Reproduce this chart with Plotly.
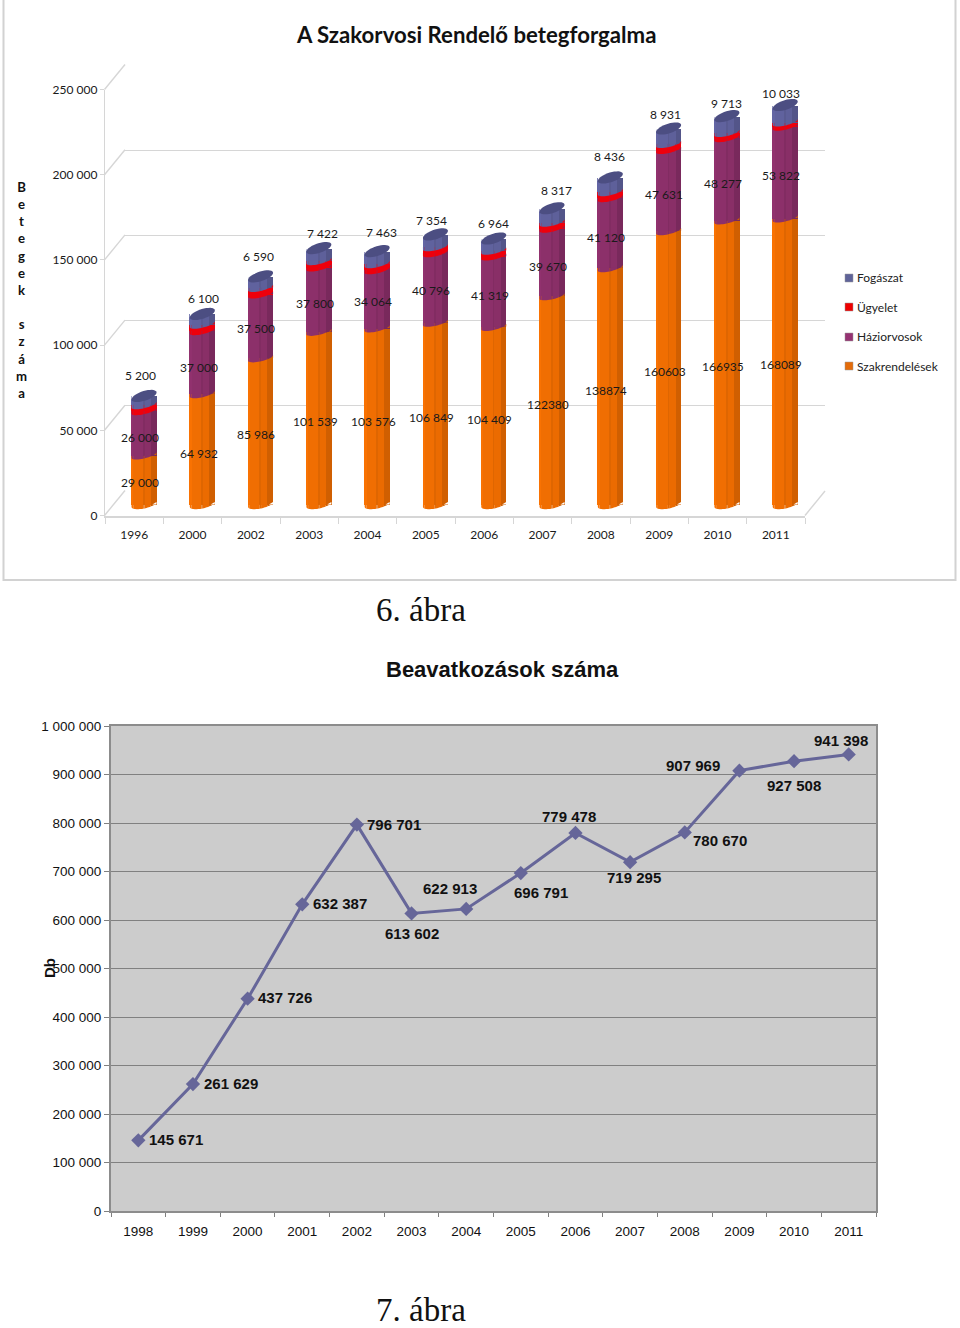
import numpy as np
import plotly.graph_objects as go

W, H = 960, 1328

# ---------- data: upper chart ----------
years_top = ["1996", "2000", "2002", "2003", "2004", "2005", "2006", "2007", "2008", "2009", "2010", "2011"]
szakrendelesek = [29000, 64932, 85986, 101539, 103576, 106849, 104409, 122380, 138874, 160603, 166935, 168089]
haziorvosok = [26000, 37000, 37500, 37800, 34064, 40796, 41319, 39670, 41120, 47631, 48277, 53822]
ugyelet = [3500, 3800, 3800, 3700, 3600, 3500, 3400, 3500, 3500, 3500, 3000, 2500]
fogaszat = [5200, 6100, 6590, 7422, 7463, 7354, 6964, 8317, 8436, 8931, 9713, 10033]
szak_labels = ["29 000", "64 932", "85 986", "101 539", "103 576", "106 849", "104 409", "122380", "138874", "160603", "166935", "168089"]
hazi_labels = ["26 000", "37 000", "37 500", "37 800", "34 064", "40 796", "41 319", "39 670", "41 120", "47 631", "48 277", "53 822"]
fog_labels = ["5 200", "6 100", "6 590", "7 422", "7 463", "7 354", "6 964", "8 317", "8 436", "8 931", "9 713", "10 033"]
ticks_top = [0, 50000, 100000, 150000, 200000, 250000]
ticktext_top = ["0", "50 000", "100 000", "150 000", "200 000", "250 000"]
legend_names = ["Fogászat", "Ügyelet", "Háziorvosok", "Szakrendelések"]

# ---------- data: lower chart ----------
years_low = ["1998", "1999", "2000", "2001", "2002", "2003", "2004", "2005", "2006", "2007", "2008", "2009", "2010", "2011"]
beavatkozas = [145671, 261629, 437726, 632387, 796701, 613602, 622913, 696791, 779478, 719295, 780670, 907969, 927508, 941398]
ticks_low = [0, 100000, 200000, 300000, 400000, 500000, 600000, 700000, 800000, 900000, 1000000]
ticktext_low = ["0", "100 000", "200 000", "300 000", "400 000", "500 000", "600 000", "700 000", "800 000", "900 000", "1 000 000"]

# ---------- placement of the free-floating labels (pixels) ----------
fog_pos = [(140, 376), (203, 298), (258, 257), (322, 234), (381, 233), (431, 221), (493, 224), (556, 190), (609, 156), (665, 115), (726, 104), (781, 94)]
hazi_pos = [(140, 437), (199, 367), (256, 329), (315, 303), (373, 302), (431, 291), (490, 295), (548, 266), (606, 237), (664, 194), (723, 183), (781, 176)]
szak_pos = [(140, 483), (199, 453), (256, 435), (315, 422), (373, 421), (431, 417), (490, 420), (548, 404), (606, 390), (665, 372), (723, 366), (781, 365)]
low_offsets = [(38, -1), (38, -1), (37, -1), (38, -1), (37, 0), (0, 20), (-16, -20), (20, 19), (-6, -16), (4, 15), (35, 8), (-46, -5), (0, 24), (-8, -14)]

GRID3D = "#D6D6D6"
FONT_TOP = "Lato"
FONT_LOW = "Liberation Sans"
TXT = "#1a1a1a"


def fx(px):
    return px / W


def fy(px):
    return 1 - px / H


def shade(rgb, f):
    return "rgb(%d,%d,%d)" % tuple(min(255, int(c * f)) for c in rgb)


ORANGE = (240, 110, 2)
PURPLE = (140, 48, 106)
RED = (238, 0, 12)
BLUE = (96, 98, 158)
BANDS = [(0.00, 0.07, 1.04), (0.07, 0.40, 1.00), (0.47, 0.05, 0.93), (0.52, 0.25, 0.98), (0.77, 0.23, 0.87)]
BAR_W = 0.4286
HALF_PX = 12.5

s1 = np.array(szakrendelesek, float)
s2 = np.array(haziorvosok, float)
s3 = np.array(ugyelet, float)
s4 = np.array(fogaszat, float)
idx = list(range(len(years_top)))

fig = go.Figure()

# back wall (grid only) -> first subplot so it lies beneath everything
fig.add_trace(go.Scatter(x=[0], y=[None], xaxis="x", yaxis="y", showlegend=False, hoverinfo="skip"))

series = [
    ("Szakrendelések", s1, np.zeros(12), ORANGE),
    ("Háziorvosok", s2, s1, PURPLE),
    ("Ügyelet", s3, s1 + s2, RED),
    ("Fogászat", s4, s1 + s2 + s3, BLUE),
]
for name, vals, base, rgb in series:
    for start, frac, f in BANDS:
        fig.add_trace(go.Bar(
            x=idx, y=vals, base=base, name=name, xaxis="x2", yaxis="y2",
            width=BAR_W * frac, offset=-BAR_W / 2 + BAR_W * start,
            marker=dict(color=shade(rgb, f if rgb != RED else 1), line=dict(width=0)),
            showlegend=False, hoverinfo="skip",
        ))

# front axes (labels, ticks)
fig.add_trace(go.Scatter(x=years_top, y=[None] * 12, xaxis="x3", yaxis="y3", showlegend=False, hoverinfo="skip"))

# lower line chart
fig.add_trace(go.Scatter(
    x=years_low, y=beavatkozas, xaxis="x4", yaxis="y4", mode="lines+markers",
    line=dict(color="#666699", width=3), marker=dict(symbol="diamond", size=11, color="#666699"),
    showlegend=False, hoverinfo="skip",
))

shapes = []


def curve_poly(x0, x1, fn, base=0.0):
    """Polygon between a curve and a flat line, both relative to the anchor (pixels)."""
    xs = np.linspace(x0, x1, 7)
    ys = fn(xs)
    pts = ["%.2f,%.2f" % (x, y) for x, y in zip(xs, ys)]
    return "M%.2f,%.2f L" % (x0, base) + " L".join(pts) + " L%.2f,%.2f Z" % (x1, base)


def cyl_shape(path, i, anchor, color):
    shapes.append(dict(type="path", path=path, xref="x2", yref="y2", xsizemode="pixel", ysizemode="pixel",
                       xanchor=i, yanchor=float(anchor), fillcolor=color, line=dict(width=0), layer="above"))


TILT = 2.8
B = 3.4


def lower(x, tilt=TILT, b=B):
    c = np.clip(x / HALF_PX, -1, 1)
    return tilt * c - b * np.sqrt(1 - c * c)


def upper(x, tilt=TILT, b=B):
    c = np.clip(x / HALF_PX, -1, 1)
    return tilt * c + b * np.sqrt(1 - c * c)


for i in idx:
    bounds = [
        (s1[i], ORANGE, PURPLE),
        (s1[i] + s2[i], PURPLE, RED),
        (s1[i] + s2[i] + s3[i], RED, BLUE),
    ]
    for anchor, low_rgb, up_rgb in bounds:
        for start, frac, f in BANDS:
            a = -HALF_PX + 2 * HALF_PX * start
            e = a + 2 * HALF_PX * frac
            fl = 1 if low_rgb == RED else f
            fu = 1 if up_rgb == RED else f
            cyl_shape(curve_poly(a, e, lambda x: np.maximum(lower(x), 0)), i, anchor, shade(low_rgb, fl))
            cyl_shape(curve_poly(a, e, lambda x: np.minimum(lower(x), 0)), i, anchor, shade(up_rgb, fu))
    # bottom of the cylinder
    for start, frac, f in BANDS:
        a = -HALF_PX + 2 * HALF_PX * start
        e = a + 2 * HALF_PX * frac
        cyl_shape(curve_poly(a, e, lambda x: np.minimum(lower(x, 2.5, 4.0), 0)), i, 0, shade(ORANGE, f))
    cyl_shape(curve_poly(-HALF_PX, HALF_PX, lambda x: np.maximum(lower(x, 2.5, 4.0), 0)), i, 0, "white")
    # top of the cylinder
    top = s1[i] + s2[i] + s3[i] + s4[i]
    cyl_shape(curve_poly(-HALF_PX, HALF_PX, lambda x: np.minimum(upper(x, 3.5, 5), 0)), i, top, "white")
    t = np.linspace(0, 2 * np.pi, 36)
    ex = HALF_PX * np.cos(t)
    ey = 3.5 * np.cos(t) + 5 * np.sin(t)
    cyl_shape("M" + " L".join("%.2f,%.2f" % p for p in zip(ex, ey)) + " Z", i, top, "rgb(76,78,130)")

# outer frame of the upper chart
shapes.append(dict(type="rect", xref="paper", yref="paper", x0=fx(3.5), x1=fx(955.5), y0=fy(580), y1=fy(-2),
                   line=dict(color="#D2D2D2", width=2), layer="below"))

# floor and side of the 3-D box
for t in ticks_top:
    yy = 515.5 - 426 * t / 250000
    shapes.append(dict(type="line", xref="paper", yref="paper", x0=fx(104.5), x1=fx(125), y0=fy(yy), y1=fy(yy - 25),
                       line=dict(color=GRID3D, width=1.4), layer="below"))
shapes.append(dict(type="line", xref="paper", yref="paper", x0=fx(805), x1=fx(825), y0=fy(515.5), y1=fy(491),
                   line=dict(color=GRID3D, width=1.4), layer="below"))

# hand-placed legend (tight marker/text spacing)
leg_y = [278, 307, 337, 366]
leg_col = ["#5F6399", "#EE0000", "#953272", "#E46C0A"]
annotations = []
for name, yy, col in zip(legend_names, leg_y, leg_col):
    shapes.append(dict(type="rect", xref="paper", yref="paper", x0=fx(845), x1=fx(853), y0=fy(yy + 4), y1=fy(yy - 4),
                       fillcolor=col, line=dict(color="#9a9a9a", width=0.5)))
    annotations.append(dict(text=name, xref="paper", yref="paper", x=fx(854.5), y=fy(yy), xanchor="left", yanchor="middle",
                            showarrow=False, font=dict(family=FONT_TOP, size=12, color="#222222")))


def top_label(txt, pos):
    annotations.append(dict(text=txt, xref="paper", yref="paper", x=fx(pos[0]), y=fy(pos[1]), xanchor="center",
                            yanchor="middle", showarrow=False, font=dict(family=FONT_TOP, size=12, color=TXT)))


for labels, positions in [(fog_labels, fog_pos), (hazi_labels, hazi_pos), (szak_labels, szak_pos)]:
    for txt, pos in zip(labels, positions):
        top_label(txt, pos)

for k, (v, (dx, dy)) in enumerate(zip(beavatkozas, low_offsets)):
    annotations.append(dict(text=f"{v:,}".replace(",", " "), xref="x4", yref="y4", x=k, y=v, xshift=dx, yshift=-dy,
                            xanchor="center", yanchor="middle", showarrow=False,
                            font=dict(family=FONT_LOW, size=15, color="#111111", weight="bold")))

# titles
annotations += [
    dict(text="<b>A Szakorvosi Rendelő betegforgalma</b>", xref="paper", yref="paper", x=fx(476), y=fy(35), xanchor="center",
         yanchor="middle", showarrow=False, font=dict(family=FONT_TOP, size=22.2, color="#111111")),
    dict(text="<b>" + "<br>".join("Betegek száma") + "</b>", xref="paper", yref="paper", x=fx(21), y=fy(290),
         xanchor="center", yanchor="middle", showarrow=False, font=dict(family=FONT_TOP, size=13.2, color="#111111")),
    dict(text="6. ábra", xref="paper", yref="paper", x=fx(421), y=fy(610), xanchor="center", yanchor="middle",
         showarrow=False, font=dict(family="Liberation Serif", size=33, color="#111111")),
    dict(text="<b>Beavatkozások száma</b>", xref="paper", yref="paper", x=fx(502), y=fy(669), xanchor="center",
         yanchor="middle", showarrow=False, font=dict(family=FONT_LOW, size=22, color="#111111")),
    dict(text="<b>Db</b>", xref="paper", yref="paper", x=fx(49), y=fy(968), xanchor="center", yanchor="middle",
         textangle=-90, showarrow=False, font=dict(family=FONT_LOW, size=15, color="#111111")),
    dict(text="7. ábra", xref="paper", yref="paper", x=fx(421), y=fy(1309.5), xanchor="center", yanchor="middle",
         showarrow=False, font=dict(family="Liberation Serif", size=33, color="#111111")),
]

hidden = dict(visible=False, fixedrange=True)
BAR_FLOOR = 12  # pixels of head-room beneath zero for the rounded cylinder bottoms
fig.update_layout(
    width=W, height=H, margin=dict(l=0, r=0, t=0, b=0, pad=0, autoexpand=False), autosize=False,
    paper_bgcolor="white", plot_bgcolor="rgba(0,0,0,0)", showlegend=False, barmode="overlay", bargap=0,
    shapes=shapes, annotations=annotations,
    # back wall
    xaxis=dict(domain=[fx(125), fx(825)], range=[0, 1], anchor="y", **hidden),
    yaxis=dict(domain=[fy(491), fy(65)], range=[0, 250000], anchor="x", tickmode="array", tickvals=ticks_top, showgrid=True,
               gridcolor=GRID3D, gridwidth=1.4, showticklabels=False, zeroline=False, showline=False, ticks="", fixedrange=True),
    # bars
    xaxis2=dict(domain=[fx(144 - 29.15), fx(144 - 29.15 + 699.5)], range=[-0.5, 11.5], anchor="y2", **hidden),
    yaxis2=dict(domain=[fy(504.5 + BAR_FLOOR), fy(78.5)], range=[-250000 * BAR_FLOOR / 426, 250000], anchor="x2", **hidden),
    # front axes
    xaxis3=dict(domain=[fx(105), fx(805)], type="category", categoryorder="array", categoryarray=years_top, anchor="y3",
                range=[-0.5, 11.5], autorange=False, ticklabelstandoff=7,
                tickson="boundaries", ticks="outside", ticklen=6, tickcolor=GRID3D, tickwidth=1.4, showline=True,
                linecolor=GRID3D, linewidth=2, showgrid=False, zeroline=False, fixedrange=True,
                tickfont=dict(family=FONT_TOP, size=12, color=TXT)),
    yaxis3=dict(domain=[fy(515.5), fy(89.5)], range=[0, 250000], anchor="x3", tickmode="array", tickvals=ticks_top,
                ticktext=ticktext_top, ticks="outside", ticklen=4, tickcolor=GRID3D, tickwidth=1.2, showline=True,
                linecolor=GRID3D, linewidth=1.4, showgrid=False, zeroline=False, fixedrange=True,
                tickfont=dict(family=FONT_TOP, size=12, color=TXT)),
    # lower chart
    xaxis4=dict(domain=[fx(111), fx(876)], type="category", categoryorder="array", categoryarray=years_low, anchor="y4",
                range=[-0.5, 13.5], autorange=False, ticklabelstandoff=7,
                tickson="boundaries", ticks="outside", ticklen=4, tickcolor="#808080", showline=True, linecolor="#8c8c8c",
                linewidth=2, mirror=True, showgrid=False, zeroline=False, fixedrange=True,
                tickfont=dict(family=FONT_LOW, size=13.5, color="#111111")),
    yaxis4=dict(domain=[fy(1211), fy(726)], range=[0, 1000000], anchor="x4", tickmode="array", tickvals=ticks_low,
                ticktext=ticktext_low, ticks="outside", ticklen=5, tickcolor="#808080", showline=True, linecolor="#8c8c8c",
                linewidth=2, mirror=True, showgrid=True, gridcolor="#808080", gridwidth=1.2, zeroline=False, fixedrange=True,
                tickfont=dict(family=FONT_LOW, size=13.5, color="#111111")),
)
# grey plot background of the lower chart
fig.add_shape(type="rect", xref="x4 domain", yref="y4 domain", x0=0, x1=1, y0=0, y1=1, fillcolor="#CCCCCC",
              line=dict(width=0), layer="below")

fig.write_html("out.html", post_script="document.body.style.margin='0';document.body.style.overflow='hidden';",
               config=dict(displayModeBar=False))
